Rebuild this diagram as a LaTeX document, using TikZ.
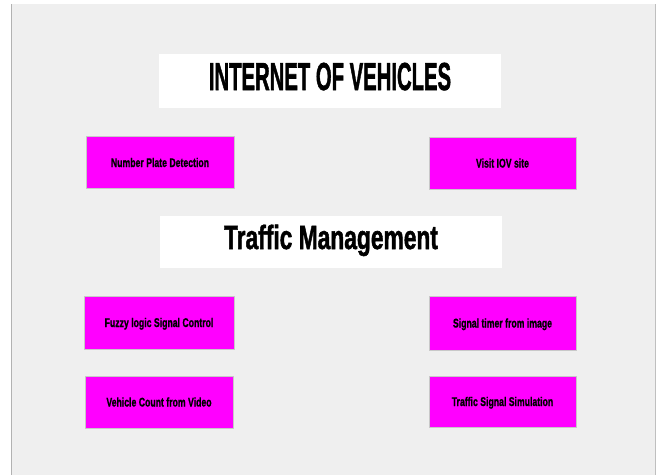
\documentclass[tikz,border=0pt]{standalone}
\usepackage{fontspec}
\setmainfont{Liberation Sans}
\newfontfamily\heavy{Liberation Sans}[BoldFeatures={FakeBold=1.2}]
\newfontfamily\heavier{Liberation Sans}[BoldFeatures={FakeBold=1.8}]
\usepackage{graphicx}
\definecolor{bggray}{RGB}{239,239,239}
\definecolor{boxmag}{RGB}{255,0,255}
\definecolor{edgegray}{RGB}{200,200,200}
\newcommand\xstretch[2]{\scalebox{#1}[1]{#2}}
\tikzset{
  titlebox/.style={fill=white, draw=none, inner sep=0pt, anchor=center,
    font=\heavier\bfseries\fontsize{39}{39}\selectfont},
  itembox/.style={fill=boxmag, draw=edgegray, line width=0.8pt, inner sep=0pt,
    minimum width=148pt, minimum height=52pt, text height=9pt, text depth=0pt,
    font=\heavy\bfseries\fontsize{12.6}{12.6}\selectfont}
}
\begin{document}
\begin{tikzpicture}[x=1pt,y=-1pt]
  \useasboundingbox (0,0) rectangle (658,475);
  \fill[white] (0,0) rectangle (658,475);
  \fill[bggray] (11,4) rectangle (656,475);
  \draw[black!30, line width=1pt] (11,4) -- (11,475);
  \draw[black!25, line width=1pt] (655.5,4) -- (655.5,475);

  \node[titlebox, minimum width=342pt, minimum height=54pt,
        text height=28pt, text depth=10pt] (iov) at (330,81)
        {\xstretch{0.52}{INTERNET OF VEHICLES}};
  \node[titlebox, minimum width=342pt, minimum height=52pt,
        text height=24pt, text depth=10pt,
        font=\heavier\bfseries\fontsize{33.5}{33.5}\selectfont] (tm) at (331,242)
        {\xstretch{0.68}{Traffic Management}};

  \node[itembox] (npd) at (160,162.5) {\xstretch{0.69}{Number Plate Detection}};
  \node[itembox, minimum width=147pt] (visit) at (502.5,163) {\xstretch{0.69}{Visit IOV site}};
  \node[itembox, minimum width=150pt, minimum height=53pt] (fuzzy) at (159,322.5) {\xstretch{0.69}{Fuzzy logic Signal Control}};
  \node[itembox, minimum width=147pt, minimum height=54pt] (timer) at (502.5,323) {\xstretch{0.69}{Signal timer from image}};
  \node[itembox] (count) at (159,402) {\xstretch{0.69}{Vehicle Count from Video}};
  \node[itembox, minimum width=147pt, minimum height=51pt] (sim) at (502.5,401.5) {\xstretch{0.69}{Traffic Signal Simulation}};
\end{tikzpicture}
\end{document}
